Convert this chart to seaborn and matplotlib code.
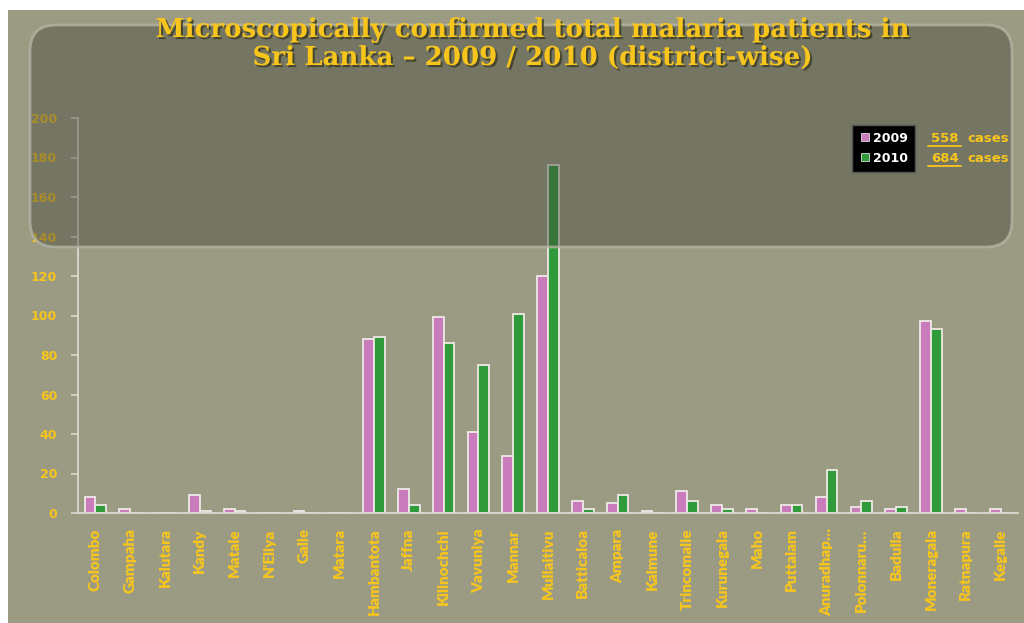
import matplotlib
matplotlib.use("Agg")
import matplotlib.pyplot as plt
import matplotlib.patheffects as pe
from matplotlib.patches import FancyBboxPatch, Rectangle
from matplotlib.lines import Line2D
import numpy as np
import pandas as pd
import seaborn as sns

# District-wise confirmed malaria cases
districts = ["Colombo", "Gampaha", "Kalutara", "Kandy", "Matale", "N'Eliya", "Galle",
             "Matara", "Hambantota", "Jaffna", "Kilinochchi", "Vavuniya", "Mannar",
             "Mullaitivu", "Batticaloa", "Ampara", "Kalmune", "Trincomalie", "Kurunegala",
             "Maho", "Puttalam", "Anuradhap…", "Polonnaru…", "Badulla", "Moneragala",
             "Ratnapura", "Kegalle"]
cases_2009 = [8, 2, 0, 9, 2, 0, 1, 0, 88, 12, 99, 41, 29, 120, 6, 5, 1, 11, 4, 2, 4, 8, 3, 2, 97, 2, 2]
cases_2010 = [4, 0, 0, 1, 1, 0, 0, 0, 89, 4, 86, 75, 101, 176, 2, 9, 0, 6, 2, 0, 4, 22, 6, 3, 93, 0, 0]
years = ["2009", "2010"]
y_ticks = list(range(0, 201, 20))

title = "Microscopically confirmed total malaria patients in\nSri Lanka – 2009 / 2010 (district-wise)"

PINK = "#c97bbb"
GREEN = "#2f9b3b"
YELLOW = "#f7c51c"
OLIVE = "#9b9b84"
AXIS = "#d9d9cf"

df = pd.DataFrame({
    "District": districts * 2,
    "Year": [years[0]] * len(districts) + [years[1]] * len(districts),
    "Cases": cases_2009 + cases_2010,
})

sns.set_theme(style="white")
W, H, DPI = 1024, 623, 100
fig = plt.figure(figsize=(W / DPI, H / DPI), dpi=DPI, facecolor="white")

# olive slide background with a thin white margin
fig.patches.append(Rectangle((8 / W, 0), 1 - 8 / W, 1 - 10 / H, transform=fig.transFigure,
                             facecolor=OLIVE, edgecolor="none", zorder=-10))

ax = fig.add_axes([78 / W, 1 - 513 / H, 940 / W, 395 / H])
ax.set_facecolor("none")

sns.barplot(data=df, x="District", y="Cases", hue="Year", order=districts,
            palette={years[0]: PINK, years[1]: GREEN}, width=0.62, saturation=1,
            edgecolor="#efe8e6", linewidth=1.3, ax=ax, legend=False)

ax.set_xlim(-0.5, len(districts) - 0.5)
ax.set_ylim(0, 200)
ax.set_yticks(y_ticks)
ax.set_xlabel("")
ax.set_ylabel("")
for s in ["top", "right"]:
    ax.spines[s].set_visible(False)
for s in ["left", "bottom"]:
    ax.spines[s].set_color(AXIS)
    ax.spines[s].set_linewidth(1.3)

ax.set_xticks(np.arange(len(districts)))
ax.set_xticklabels(districts, rotation=90, fontfamily="Lato", fontweight="heavy",
                   fontsize=11, color=YELLOW)
ax.set_xticks(np.arange(-0.5, len(districts)), minor=True)
ax.tick_params(axis="x", which="major", length=0, pad=11)
ax.tick_params(axis="x", which="minor", length=5, width=1.2, color=AXIS, direction="out")
ax.tick_params(axis="y", length=5, width=1.2, color=AXIS, pad=10, left=True)
for lab in ax.get_yticklabels():
    lab.set_fontweight("bold")
    lab.set_fontsize(9)
    lab.set_color(YELLOW)
    lab.set_fontfamily("DejaVu Sans")

# translucent rounded title panel laid over the upper part of the chart
panel = FancyBboxPatch((30, H - 247), 982, 222, boxstyle="round,pad=0,rounding_size=26",
                       transform=None, facecolor="#45453b", alpha=0.44,
                       edgecolor="none", zorder=5)
fig.patches.append(panel)
rim = FancyBboxPatch((30, H - 247), 982, 222, boxstyle="round,pad=0,rounding_size=26",
                     transform=None, facecolor="none", edgecolor="#b4b4a2",
                     linewidth=2, alpha=0.8, zorder=5)
fig.patches.append(rim)

fig.text(533 / W, 1 - 17 / H, title, ha="center", va="top", fontfamily="DejaVu Serif",
         fontweight="bold", fontsize=18.8, color=YELLOW, linespacing=1.15, zorder=10,
         path_effects=[pe.withSimplePatchShadow(offset=(1.5, -1.5), shadow_rgbFace="#3a3a20",
                                                alpha=0.8)])

# legend box with per-year totals
handles = [Line2D([], [], marker="s", linestyle="none", markersize=6,
                  markerfacecolor=c, markeredgecolor="#dddddd", markeredgewidth=0.6)
           for c in (PINK, GREEN)]
leg = fig.legend(handles, years, loc="upper left", bbox_to_anchor=(852 / W, 1 - 125 / H),
                 frameon=True, facecolor="black", edgecolor="#555555", framealpha=1,
                 fancybox=False, handletextpad=0.1, handlelength=1.0, borderpad=0.55,
                 labelspacing=0.55, borderaxespad=0,
                 prop={"family": "DejaVu Sans", "weight": "bold", "size": 9})
leg.set_zorder(10)
for t in leg.get_texts():
    t.set_color("white")

for i, vals in enumerate((cases_2009, cases_2010)):
    y = 1 - (138 + i * 20) / H
    fig.text(959 / W, y, f"{sum(vals)}", ha="right", va="center", fontfamily="DejaVu Sans",
             fontweight="bold", fontsize=9.5, color=YELLOW, zorder=10)
    fig.text(967 / W, y, "cases", ha="left", va="center", fontfamily="DejaVu Sans",
             fontweight="bold", fontsize=9.5, color=YELLOW, zorder=10)
    fig.add_artist(Line2D([928 / W, 961 / W], [y - 8 / H, y - 8 / H],
                          transform=fig.transFigure, color=YELLOW, linewidth=1.3, zorder=10))

fig.savefig("out.png", dpi=DPI, facecolor=fig.get_facecolor())
